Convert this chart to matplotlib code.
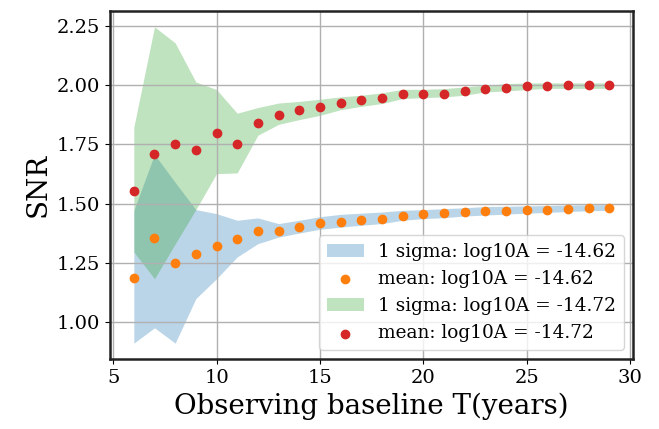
import matplotlib
matplotlib.use("Agg")
import matplotlib.pyplot as plt
import numpy as np

plt.rcParams['font.family'] = ['DejaVu Serif']

T = list(range(6, 30))

# log10A = -14.62
mean_a = [1.188, 1.354, 1.248, 1.287, 1.320, 1.349, 1.383, 1.383, 1.400, 1.417, 1.421, 1.431,
          1.436, 1.450, 1.455, 1.460, 1.465, 1.469, 1.469, 1.474, 1.474, 1.478, 1.483, 1.483]
upper_a = [1.472, 1.708, 1.590, 1.475, 1.458, 1.430, 1.440, 1.416, 1.430, 1.445, 1.455, 1.460,
           1.465, 1.472, 1.475, 1.479, 1.483, 1.488, 1.489, 1.491, 1.492, 1.494, 1.495, 1.496]
lower_a = [0.911, 0.976, 0.911, 1.099, 1.183, 1.275, 1.331, 1.359, 1.376, 1.392, 1.401, 1.409,
           1.416, 1.430, 1.437, 1.441, 1.448, 1.452, 1.456, 1.460, 1.463, 1.467, 1.470, 1.472]

# log10A = -14.72
mean_b = [1.553, 1.711, 1.754, 1.726, 1.798, 1.752, 1.841, 1.875, 1.894, 1.908, 1.927, 1.937,
          1.946, 1.965, 1.965, 1.965, 1.975, 1.983, 1.989, 1.995, 1.995, 2.000, 2.000, 2.000]
upper_b = [1.823, 2.247, 2.179, 2.014, 1.982, 1.882, 1.906, 1.925, 1.932, 1.941, 1.951, 1.958,
           1.968, 1.983, 1.983, 1.986, 1.993, 2.000, 2.007, 2.010, 2.010, 2.010, 2.010, 2.010]
lower_b = [1.296, 1.183, 1.330, 1.475, 1.627, 1.630, 1.789, 1.835, 1.855, 1.873, 1.897, 1.911,
           1.923, 1.944, 1.948, 1.951, 1.958, 1.972, 1.976, 1.982, 1.987, 1.987, 1.987, 1.987]

labels = ["1 sigma: log10A = -14.62", "mean: log10A = -14.62",
          "1 sigma: log10A = -14.72", "mean: log10A = -14.72"]

fig = plt.figure(figsize=(6.59, 4.29), dpi=100)
ax = fig.add_axes([0.167, 0.1632, 0.7936, 0.8112])

ax.fill_between(T, lower_a, upper_a, color='tab:blue', alpha=0.3, linewidth=0, label=labels[0])
ax.scatter(T, mean_a, color='tab:orange', s=36, zorder=2, label=labels[1])
ax.fill_between(T, lower_b, upper_b, color='tab:green', alpha=0.3, linewidth=0, label=labels[2])
ax.scatter(T, mean_b, color='tab:red', s=36, zorder=2, label=labels[3])

ax.grid(True, color='#b0b0b0', linewidth=1.0)
ax.set_xlabel("Observing baseline T(years)", fontsize=20)
ax.set_ylabel("SNR", fontsize=20)
ax.tick_params(labelsize=14)
ax.set_yticks([1.00, 1.25, 1.50, 1.75, 2.00, 2.25])
for s in ax.spines.values():
    s.set_linewidth(1.8)
    s.set_color('#222222')
ax.legend(loc='lower right', fontsize=13.3)

fig.savefig("out.png", dpi=100)
